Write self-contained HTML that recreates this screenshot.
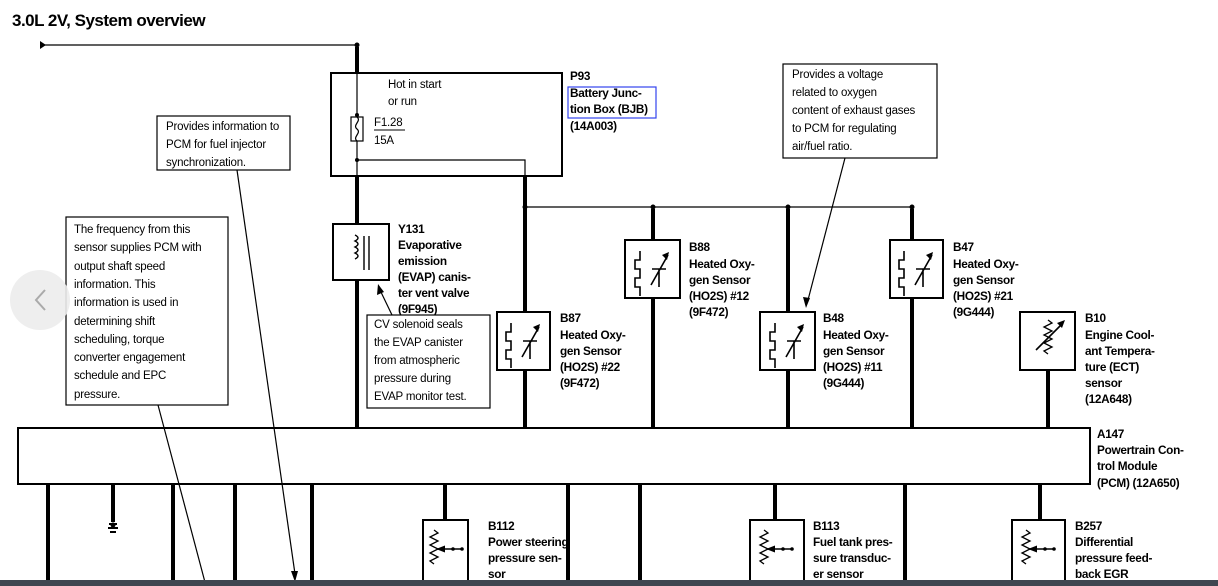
<!DOCTYPE html>
<html><head><style>
body{margin:0;width:1218px;height:586px;overflow:hidden;background:#fff;}
svg{display:block;font-family:"Liberation Sans",Arial,sans-serif;}
.b{font-weight:bold;font-size:11.8px;letter-spacing:-0.3px;}
.n{font-size:11.5px;letter-spacing:-0.2px;}
</style></head><body>
<svg width="1218" height="586" viewBox="0 0 1218 586">
<defs>
<g id="o2">
<path d="M8 8 v9 h-5 v9 h5 v9 h-5 v9 h5 v9" fill="none" stroke="#000" stroke-width="1.6"/>
<path d="M27 44 v-18 M20 26 h14 M19 42 L36 12" fill="none" stroke="#000" stroke-width="1.6"/>
<path d="M37 9 l-7 3 l5 5 z" fill="#000"/>
</g>
<g id="pr">
<path d="M12 6 l4 3 l-8 4 l8 4 l-8 4 l8 4 l-8 4 l8 4 l-8 4 l4 3" fill="none" stroke="#000" stroke-width="1.3"/>
<path d="M15 25 H40" stroke="#000" stroke-width="1.5"/>
<path d="M14 25 l9 -3.5 v7 z" fill="#000"/><circle cx="31" cy="25" r="1.8"/><circle cx="40" cy="25" r="1.8"/>
</g>
</defs>
<text x="12" y="26" font-size="17" font-weight="bold" letter-spacing="-0.5">3.0L 2V, System overview</text>
<line x1="40" y1="45" x2="357" y2="45" stroke="#000" stroke-width="1.2"/>
<path d="M40 41 l6 4 l-6 4z"/>
<circle cx="357" cy="45" r="2.5"/>
<line x1="357" y1="47" x2="357" y2="73" stroke="#000" stroke-width="4"/>
<rect x="331" y="73" width="231" height="103" fill="none" stroke="#000" stroke-width="2"/>
<line x1="357" y1="73" x2="357" y2="117" stroke="#000" stroke-width="1.2"/>
<circle cx="357" cy="115" r="2"/>
<rect x="351" y="117" width="12" height="24" fill="none" stroke="#000" stroke-width="1.2"/>
<path d="M357 117 c5 4 -5 8 0 12 c5 4 -5 8 0 12" fill="none" stroke="#000" stroke-width="1.2"/>
<line x1="357" y1="141" x2="357" y2="176" stroke="#000" stroke-width="1.2"/>
<circle cx="357" cy="160" r="2"/>
<path d="M357 160 H525 V176" fill="none" stroke="#000" stroke-width="1.2"/>
<text x="388" y="88" class="n">Hot in start</text>
<text x="388" y="105" class="n">or run</text>
<text x="374" y="126" class="n">F1.28</text>
<line x1="374" y1="130" x2="405" y2="130" stroke="#000"/>
<text x="374" y="144" class="n">15A</text>
<text x="570" y="80" class="b">P93</text>
<rect x="568" y="87" width="88" height="31" fill="none" stroke="#3344ee" stroke-width="1.2"/>
<text x="570" y="97" class="b">Battery Junc-</text>
<text x="570" y="113" class="b">tion Box (BJB)</text>
<text x="570" y="130" class="b">(14A003)</text>
<line x1="357" y1="176" x2="357" y2="428" stroke="#000" stroke-width="4"/>
<line x1="525" y1="176" x2="525" y2="428" stroke="#000" stroke-width="4"/>
<line x1="525" y1="207" x2="912" y2="207" stroke="#000" stroke-width="1.2"/>
<circle cx="525" cy="207" r="2.5"/><circle cx="653" cy="207" r="2.5"/><circle cx="788" cy="207" r="2.5"/><circle cx="912" cy="207" r="2.5"/>
<line x1="653" y1="209" x2="653" y2="428" stroke="#000" stroke-width="4"/>
<line x1="788" y1="209" x2="788" y2="428" stroke="#000" stroke-width="4"/>
<line x1="912" y1="209" x2="912" y2="428" stroke="#000" stroke-width="4"/>
<line x1="1048" y1="370" x2="1048" y2="428" stroke="#000" stroke-width="4"/>
<rect x="333" y="224" width="56" height="56" fill="#fff" stroke="#000" stroke-width="2"/>
<path d="M355 235 c4 2 4 4 0 6 c4 2 4 4 0 6 c4 2 4 4 0 6 c4 2 4 4 0 6 M364 236 v34 M369 236 v34" fill="none" stroke="#000" stroke-width="1.4"/>
<text x="398" y="233" class="b">Y131</text>
<text x="398" y="249" class="b">Evaporative</text>
<text x="398" y="265" class="b">emission</text>
<text x="398" y="281" class="b">(EVAP) canis-</text>
<text x="398" y="297" class="b">ter vent valve</text>
<text x="398" y="313" class="b">(9F945)</text>
<rect x="367" y="315" width="123" height="93" fill="#fff" stroke="#000" stroke-width="1.2"/>
<text x="374" y="328" class="n">CV solenoid seals</text>
<text x="374" y="346" class="n">the EVAP canister</text>
<text x="374" y="364" class="n">from atmospheric</text>
<text x="374" y="382" class="n">pressure during</text>
<text x="374" y="400" class="n">EVAP monitor test.</text>
<line x1="392" y1="315" x2="380" y2="290" stroke="#000" stroke-width="1.2"/>
<path d="M378 284 l-1 11 l7 -3z"/>
<rect x="497" y="312" width="53" height="58" fill="#fff" stroke="#000" stroke-width="2"/><use href="#o2" x="503" y="315"/>
<rect x="625" y="240" width="55" height="58" fill="#fff" stroke="#000" stroke-width="2"/><use href="#o2" x="632" y="243"/>
<rect x="760" y="312" width="55" height="58" fill="#fff" stroke="#000" stroke-width="2"/><use href="#o2" x="767" y="315"/>
<rect x="890" y="240" width="53" height="58" fill="#fff" stroke="#000" stroke-width="2"/><use href="#o2" x="896" y="243"/>
<rect x="1020" y="312" width="55" height="58" fill="#fff" stroke="#000" stroke-width="2"/>
<path d="M1048 320 l4 3 l-8 4 l8 4 l-8 4 l8 4 l-8 4 l8 4 l-8 4 l4 3" fill="none" stroke="#000" stroke-width="1.3"/>
<path d="M1036 350 L1062 324" stroke="#000" stroke-width="1.6"/><path d="M1065 320 l-8 3 l5 5z"/>
<text x="560" y="322" class="b">B87</text><text x="560" y="339" class="b">Heated Oxy-</text><text x="560" y="355" class="b">gen Sensor</text><text x="560" y="371" class="b">(HO2S) #22</text><text x="560" y="387" class="b">(9F472)</text>
<text x="689" y="251" class="b">B88</text><text x="689" y="268" class="b">Heated Oxy-</text><text x="689" y="284" class="b">gen Sensor</text><text x="689" y="300" class="b">(HO2S) #12</text><text x="689" y="316" class="b">(9F472)</text>
<text x="823" y="322" class="b">B48</text><text x="823" y="339" class="b">Heated Oxy-</text><text x="823" y="355" class="b">gen Sensor</text><text x="823" y="371" class="b">(HO2S) #11</text><text x="823" y="387" class="b">(9G444)</text>
<text x="953" y="251" class="b">B47</text><text x="953" y="268" class="b">Heated Oxy-</text><text x="953" y="284" class="b">gen Sensor</text><text x="953" y="300" class="b">(HO2S) #21</text><text x="953" y="316" class="b">(9G444)</text>
<text x="1085" y="322" class="b">B10</text><text x="1085" y="339" class="b">Engine Cool-</text><text x="1085" y="355" class="b">ant Tempera-</text><text x="1085" y="371" class="b">ture (ECT)</text><text x="1085" y="387" class="b">sensor</text><text x="1085" y="403" class="b">(12A648)</text>
<rect x="783" y="64" width="154" height="94" fill="#fff" stroke="#000" stroke-width="1.2"/>
<text x="792" y="78" class="n">Provides a voltage</text>
<text x="792" y="96" class="n">related to oxygen</text>
<text x="792" y="114" class="n">content of exhaust gases</text>
<text x="792" y="132" class="n">to PCM for regulating</text>
<text x="792" y="150" class="n">air/fuel ratio.</text>
<line x1="845" y1="158" x2="808" y2="300" stroke="#000" stroke-width="1.2"/>
<path d="M806 308 l-3 -11 l7 1z"/>
<rect x="18" y="428" width="1072" height="56" fill="#fff" stroke="#000" stroke-width="2"/>
<text x="1097" y="438" class="b">A147</text>
<text x="1097" y="454" class="b">Powertrain Con-</text>
<text x="1097" y="470" class="b">trol Module</text>
<text x="1097" y="487" class="b">(PCM) (12A650)</text>
<g stroke="#000" stroke-width="4">
<line x1="48" y1="484" x2="48" y2="586"/>
<line x1="113" y1="484" x2="113" y2="522"/>
<line x1="173" y1="484" x2="173" y2="586"/>
<line x1="235" y1="484" x2="235" y2="586"/>
<line x1="312" y1="484" x2="312" y2="586"/>
<line x1="445" y1="484" x2="445" y2="520"/>
<line x1="568" y1="484" x2="568" y2="586"/>
<line x1="640" y1="484" x2="640" y2="586"/>
<line x1="775" y1="484" x2="775" y2="520"/>
<line x1="905" y1="484" x2="905" y2="586"/>
<line x1="1040" y1="484" x2="1040" y2="520"/>
</g>
<path d="M109 524 h8 M108 528 h10 M110 532 h6" stroke="#000" stroke-width="2"/>
<circle cx="113" cy="525" r="2.5"/>
<rect x="423" y="520" width="45" height="70" fill="#fff" stroke="#000" stroke-width="2"/><use href="#pr" x="422" y="524"/>
<rect x="750" y="520" width="54" height="70" fill="#fff" stroke="#000" stroke-width="2"/><use href="#pr" x="752" y="524"/>
<rect x="1012" y="520" width="53" height="70" fill="#fff" stroke="#000" stroke-width="2"/><use href="#pr" x="1014" y="524"/>
<text x="488" y="530" class="b">B112</text><text x="488" y="546" class="b">Power steering</text><text x="488" y="562" class="b">pressure sen-</text><text x="488" y="578" class="b">sor</text>
<text x="813" y="530" class="b">B113</text><text x="813" y="546" class="b">Fuel tank pres-</text><text x="813" y="562" class="b">sure transduc-</text><text x="813" y="578" class="b">er sensor</text>
<text x="1075" y="530" class="b">B257</text><text x="1075" y="546" class="b">Differential</text><text x="1075" y="562" class="b">pressure feed-</text><text x="1075" y="578" class="b">back EGR</text>
<rect x="157" y="116" width="133" height="54" fill="#fff" stroke="#000" stroke-width="1.2"/>
<text x="166" y="130" class="n">Provides information to</text>
<text x="166" y="148" class="n">PCM for fuel injector</text>
<text x="166" y="166" class="n">synchronization.</text>
<line x1="237" y1="170" x2="295" y2="574" stroke="#000" stroke-width="1.2"/>
<path d="M295 582 l-4 -11 l7 0z"/>
<rect x="66" y="217" width="162" height="188" fill="#fff" stroke="#000" stroke-width="1.2"/>
<text x="74" y="233" class="n">The frequency from this</text>
<text x="74" y="251" class="n">sensor supplies PCM with</text>
<text x="74" y="270" class="n">output shaft speed</text>
<text x="74" y="288" class="n">information.  This</text>
<text x="74" y="306" class="n">information is used in</text>
<text x="74" y="325" class="n">determining shift</text>
<text x="74" y="343" class="n">scheduling, torque</text>
<text x="74" y="361" class="n">converter engagement</text>
<text x="74" y="379" class="n">schedule and EPC</text>
<text x="74" y="398" class="n">pressure.</text>
<line x1="158" y1="405" x2="206" y2="586" stroke="#000" stroke-width="1.2"/>
<circle cx="40" cy="300" r="30" fill="#ececec" opacity="0.9"/>
<path d="M45 290 l-9 10 l9 10" fill="none" stroke="#aaa" stroke-width="2"/>
<rect x="0" y="580" width="1218" height="6" fill="#3f4650"/>
</svg>
</body></html>
